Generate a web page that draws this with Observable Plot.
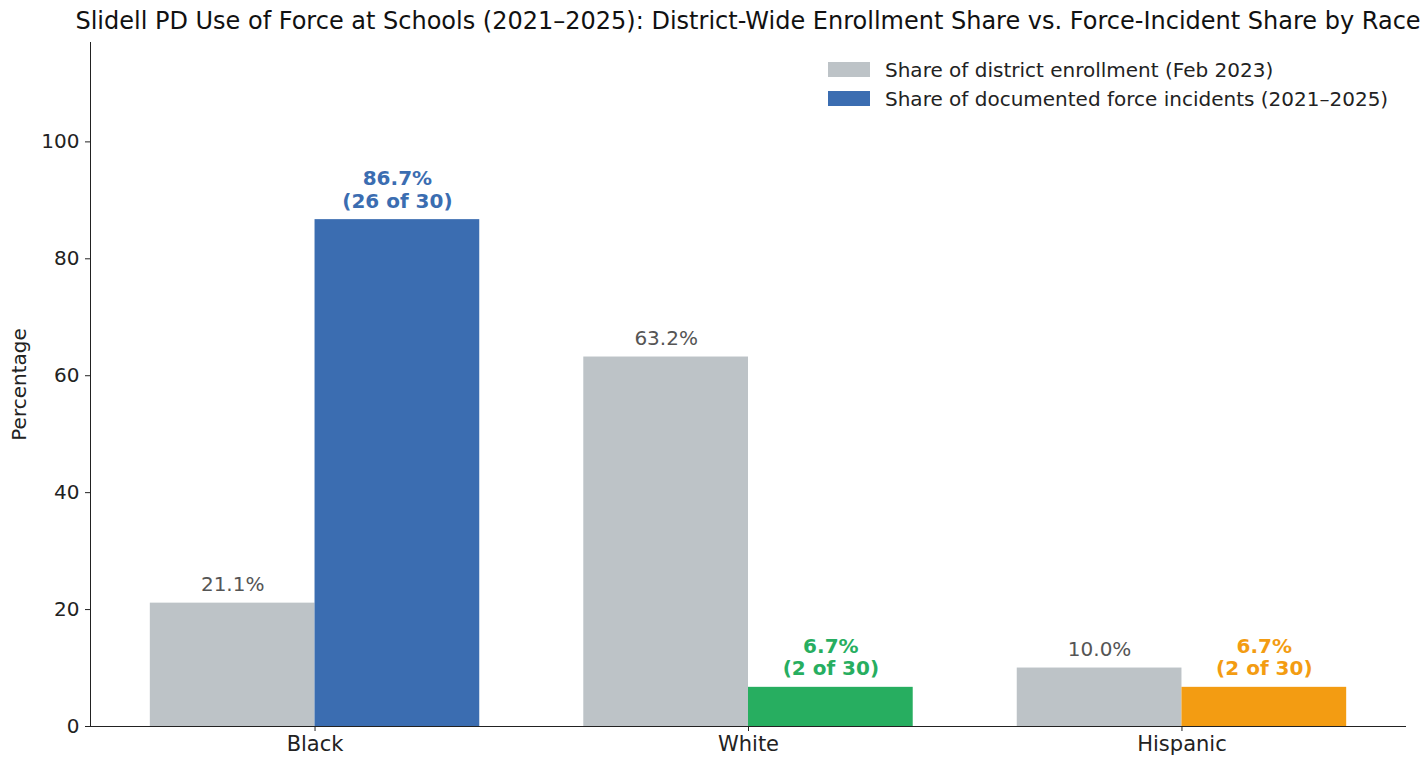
<!DOCTYPE html>
<html><head><meta charset="utf-8">
<script src="https://cdn.jsdelivr.net/npm/d3@7"></script>
<script src="https://cdn.jsdelivr.net/npm/@observablehq/plot@0.6"></script>
<style>
body{margin:0;background:#fff;font-family:"DejaVu Sans",sans-serif;}
#wrap{position:relative;width:1426px;height:760px;overflow:hidden;background:#fff}
#title{position:absolute;left:0;top:7px;width:1496px;text-align:center;font-size:24px;color:#111;white-space:nowrap}
#chart{position:absolute;left:0;top:40px}
#legend{position:absolute;left:828px;top:55px;font-size:20px;color:#222}
.row{display:flex;align-items:center;height:29px}
.sw{width:42px;height:15px;margin-right:15px}
</style></head>
<body>
<div id="wrap">
  <div id="title">Slidell PD Use of Force at Schools (2021–2025): District-Wide Enrollment Share vs. Force-Incident Share by Race</div>
  <div id="chart"></div>
  <div id="legend"></div>
</div>
<script>
const races = ["Black", "White", "Hispanic"];
const enrollmentShare = [21.1, 63.2, 10.0];
const forceShare = [86.7, 6.7, 6.7];
const forceCounts = [26, 2, 2];
const forceTotal = 30;
const forceColors = ["#3b6db1", "#27ae60", "#f39c12"];
const enrollColor = "#bdc3c7";
const seriesNames = ["Share of district enrollment (Feb 2023)", "Share of documented force incidents (2021–2025)"];
const yTicks = [0, 20, 40, 60, 80, 100];

const barW = 0.38;
const enroll = races.map((r, i) => ({race: r, i, value: enrollmentShare[i]}));
const force = races.map((r, i) => ({race: r, i, value: forceShare[i], n: forceCounts[i], color: forceColors[i]}));
const lo = -barW - 0.05 * (races.length - 1 + 2 * barW);
const hi = races.length - 1 + barW + 0.05 * (races.length - 1 + 2 * barW);

const plot = Plot.plot({
  width: 1426,
  height: 720,
  marginTop: 2,
  marginBottom: 34,
  marginLeft: 90,
  marginRight: 20,
  style: {fontFamily: "DejaVu Sans, sans-serif", color: "#222", background: "#fff"},
  x: {domain: [lo, hi]},
  y: {domain: [0, 117]},
  marks: [
    Plot.rectY(enroll, {x1: d => d.i - barW, x2: d => d.i, y: "value", fill: enrollColor}),
    Plot.rectY(force, {x1: d => d.i, x2: d => d.i + barW, y: "value", fill: d => d.color}),
    Plot.text(enroll, {x: d => d.i - barW / 2, y: "value", text: d => d.value.toFixed(1) + "%", lineAnchor: "bottom", dy: -12, fill: "#555", fontSize: 20}),
    Plot.text(force, {x: d => d.i + barW / 2, y: "value", text: d => d.value.toFixed(1) + "%\n(" + d.n + " of " + forceTotal + ")", lineAnchor: "bottom", dy: -12, fill: d => d.color, fontSize: 20, fontWeight: "bold", lineHeight: 1.12}),
    Plot.axisY({ticks: yTicks, tickSize: 5, tickPadding: 6, fontSize: 20, label: "Percentage", labelAnchor: "center", labelArrow: "none", labelOffset: 79}),
    Plot.axisX({ticks: races.map((r, i) => i), tickFormat: i => races[i], tickSize: 5, tickPadding: 5, fontSize: 21, label: null}),
    Plot.frame({anchor: "left", stroke: "#222"}),
    Plot.ruleY([0], {stroke: "#222"})
  ]
});
document.getElementById("chart").appendChild(plot);

const legend = document.getElementById("legend");
const swColors = [enrollColor, forceColors[0]];
seriesNames.forEach((name, k) => {
  const row = document.createElement("div");
  row.className = "row";
  const sw = document.createElement("div");
  sw.className = "sw";
  sw.style.background = swColors[k];
  const t = document.createElement("span");
  t.textContent = name;
  row.appendChild(sw);
  row.appendChild(t);
  legend.appendChild(row);
});
</script>
</body></html>
